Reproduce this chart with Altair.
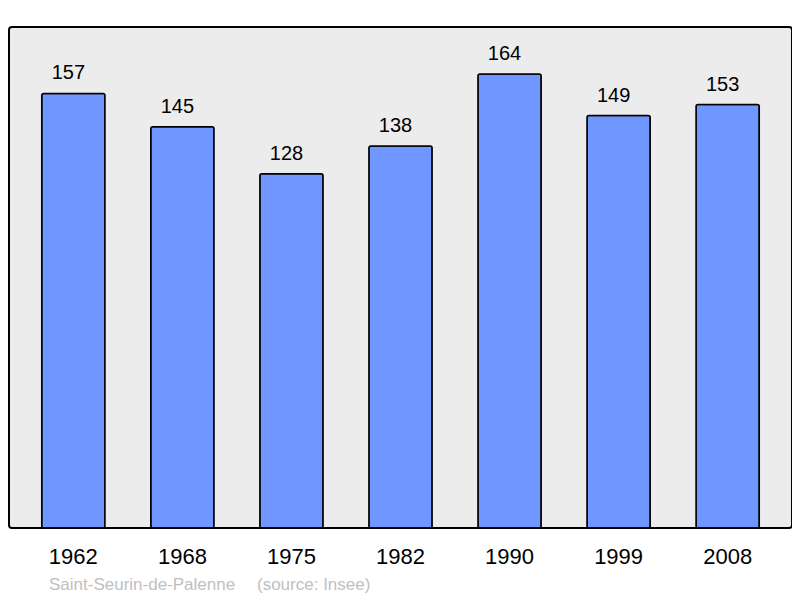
import altair as alt
import pandas as pd

years = ["1962", "1968", "1975", "1982", "1990", "1999", "2008"]
population = [157, 145, 128, 138, 164, 149, 153]
commune = "Saint-Seurin-de-Palenne"
source_note = "(source: Insee)"

df = pd.DataFrame({"year": years, "pop": population})

x = alt.X(
    "year:N",
    sort=years,
    title=None,
    scale=alt.Scale(paddingInner=0.42, paddingOuter=0.3),
    axis=alt.Axis(
        labelFontSize=22,
        labelFont="Liberation Sans",
        labelColor="#000000",
        labelAngle=0,
        labelBaseline="alphabetic",
        labelPadding=35,
        ticks=False,
        domain=False,
    ),
)
y = alt.Y("pop:Q", scale=alt.Scale(domain=[0, 181], nice=False), axis=None)

bars = (
    alt.Chart(df)
    .mark_bar(color="#7097ff", stroke="#000000", strokeWidth=1.5, cornerRadius=2)
    .encode(x=x, y=y)
)

labels = (
    alt.Chart(df)
    .mark_text(
        baseline="alphabetic",
        dy=-14,
        dx=-5,
        fontSize=20,
        font="Liberation Sans",
        color="#000000",
    )
    .encode(x=x, y=y, text="pop:Q")
)

note1 = (
    alt.Chart(pd.DataFrame({"t": [commune]}))
    .mark_text(
        align="left",
        baseline="alphabetic",
        fontSize=17,
        font="Liberation Sans",
        color="#c0c0c0",
    )
    .encode(x=alt.value(40), y=alt.value(563), text="t:N")
)

note2 = (
    alt.Chart(pd.DataFrame({"t": [source_note]}))
    .mark_text(
        align="left",
        baseline="alphabetic",
        fontSize=17,
        font="Liberation Sans",
        color="#c0c0c0",
    )
    .encode(x=alt.value(248), y=alt.value(563), text="t:N")
)

chart = (
    (bars + labels + note1 + note2)
    .properties(
        width=783,
        height=501,
        autosize=alt.AutoSizeParams(type="none"),
        padding={"left": 1, "top": 19, "right": 0, "bottom": 70},
        background="#ffffff",
    )
    .configure_view(
        fill="#ececec",
        stroke="#000000",
        strokeWidth=2,
        cornerRadius=3,
    )
)

chart.save("out.html", embed_options={"renderer": "svg", "actions": False})
